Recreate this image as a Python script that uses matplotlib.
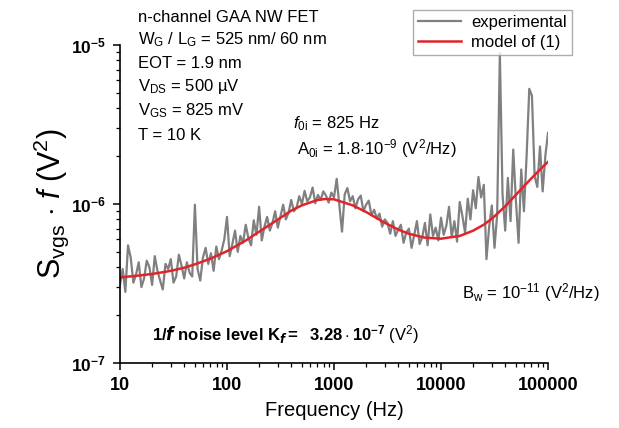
import numpy as np
import matplotlib
matplotlib.use('Agg')
import matplotlib.pyplot as plt
from matplotlib.ticker import FixedLocator, NullFormatter, LogLocator

plt.rcParams['font.family'] = ['Liberation Sans', 'DejaVu Sans']
plt.rcParams['mathtext.fontset'] = 'custom'
plt.rcParams['mathtext.rm'] = 'Liberation Sans'
plt.rcParams['mathtext.it'] = 'Liberation Sans:italic'
plt.rcParams['mathtext.bf'] = 'Liberation Sans:bold'

# ---- data ----
# experimental spectrum, 40 points per decade from 10 Hz to 100 kHz (values in 1e-7 V^2)
exp_freq = np.logspace(1, 5, 161)
exp_vals = [
    3.1, 3.9, 2.8, 5.5, 4.6, 3.2, 3.6, 4.3, 3.0, 3.4,
    4.4, 4.0, 3.1, 4.7, 3.8, 3.3, 2.9, 4.2, 3.9, 4.5,
    3.2, 3.5, 4.8, 4.1, 3.4, 4.3, 3.7, 3.5, 9.9, 3.9,
    3.3, 4.6, 5.3, 4.2, 4.9, 3.8, 5.4, 4.5, 5.1, 6.0,
    8.3, 4.7, 5.6, 6.8, 5.0, 6.3, 5.7, 7.4, 6.1, 5.5,
    7.9, 6.4, 9.6, 5.9, 7.2, 8.3, 6.8, 7.6, 9.0, 7.1,
    8.4, 9.9, 8.0, 8.8, 10.6, 9.0, 9.5, 11.2, 10.0, 12.1,
    10.4, 11.0, 12.7, 10.1, 11.4, 10.6, 12.0, 11.3, 10.2, 11.8,
    11.0, 14.4, 9.8, 6.7, 11.5, 12.6, 10.4, 11.2, 9.4, 10.7,
    11.3, 9.0, 9.9, 10.5, 8.5, 9.2, 8.1, 8.7, 7.2, 8.0,
    7.6, 6.5, 7.8, 6.3, 6.9, 7.4, 5.7, 6.6, 7.0, 5.3,
    6.4, 7.8, 5.6, 6.2, 7.6, 5.5, 8.6, 6.3, 7.1, 5.9,
    8.2, 6.4, 7.3, 9.6, 6.2, 7.8, 5.8, 10.3, 8.4, 6.6,
    10.8, 8.0, 12.2, 9.4, 14.8, 11.0, 13.2, 4.5, 7.2, 9.8,
    5.3, 8.6, 89.0, 11.5, 6.8, 14.6, 7.8, 22.0, 10.5, 5.7,
    16.5, 9.0, 20.0, 53.0, 48.0, 15.0, 12.8, 23.0, 12.0, 20.0,
    28.0,
]

# model curve (values in 1e-7 V^2)
model_freq = [10, 15, 20, 30, 40, 50, 70, 100, 150, 200, 300, 400, 500, 700,
              825, 1000, 1500, 2000, 3000, 4000, 5000, 7000, 10000, 15000,
              20000, 25000, 30000, 40000, 50000, 60000, 70000, 80000, 90000, 100000]
model_vals = [3.45, 3.55, 3.63, 3.8, 3.98, 4.17, 4.53, 5.05, 5.9, 6.7, 8.0, 9.1,
              9.8, 10.6, 10.75, 10.7, 9.8, 8.9, 7.6, 6.9, 6.5, 6.15, 6.05, 6.3,
              6.8, 7.4, 8.1, 9.7, 11.4, 13.0, 14.5, 15.9, 17.2, 18.4]

unit = 1e-7
xticks = [10, 100, 1000, 10000, 100000]
xticklabels = ['10', '100', '1000', '10000', '100000']
yticks = [1e-7, 1e-6, 1e-5]
yticklabels = [r'$\mathbf{10^{-7}}$', r'$\mathbf{10^{-6}}$', r'$\mathbf{10^{-5}}$']

fig = plt.figure(figsize=(6.19, 4.28), dpi=100)
ax = fig.add_axes([120/619, 1-363/428, (548-120)/619, (363-45)/428])

ax.plot(exp_freq, np.array(exp_vals)*unit, color='#808080', lw=1.6, label='experimental')
ax.plot(model_freq, np.array(model_vals)*unit, color='#e0242a', lw=1.8, label='model of (1)')

ax.set_xscale('log')
ax.set_yscale('log')
ax.set_xlim(10, 100000)
ax.set_ylim(1e-7, 1e-5)

for s in ['top', 'right']:
    ax.spines[s].set_visible(False)
for s in ['left', 'bottom']:
    ax.spines[s].set_linewidth(1.2)

ax.xaxis.set_major_locator(FixedLocator(xticks))
ax.set_xticklabels(xticklabels, fontweight='bold', fontsize=13)
ax.yaxis.set_major_locator(FixedLocator(yticks))
ax.set_yticklabels(yticklabels, fontsize=12.5)
ax.xaxis.set_minor_locator(LogLocator(base=10, subs=np.arange(2, 10)))
ax.yaxis.set_minor_locator(LogLocator(base=10, subs=np.arange(2, 10)))
ax.xaxis.set_minor_formatter(NullFormatter())
ax.yaxis.set_minor_formatter(NullFormatter())
ax.tick_params(which='major', direction='out', length=5, width=1.1, pad=5)
ax.tick_params(which='minor', direction='out', length=3, width=0.9)

ax.set_xlabel('Frequency (Hz)', fontsize=14.5, labelpad=5)
ax.set_ylabel(r'S$_{\rm vgs}$ $\cdot$ $f$ (V$^2$)', fontsize=22, labelpad=0)

fs = 12
info = ['n-channel GAA NW FET',
        r'W$_{\rm G}$ / L$_{\rm G}$ = 525 nm/ 60 nm',
        'EOT = 1.9 nm',
        r'V$_{\rm DS}$ = 500 µV',
        r'V$_{\rm GS}$ = 825 mV',
        'T = 10 K']
ys = [17, 40, 63, 87, 111, 136]
for t, y in zip(info, ys):
    fig.text(138/619, 1-y/428, t, fontsize=fs, va='center', ha='left')

fig.text(293/619, 1-124/428, r'$f_{\rm 0i}$ = 825 Hz', fontsize=fs, va='center')
fig.text(297/619, 1-149/428, r'A$_{\rm 0i}$ = 1.8$\cdot$10$^{-9}$ (V$^2$/Hz)', fontsize=fs, va='center')
fig.text(462/619, 1-293/428, r'B$_{\rm w}$ = 10$^{-11}$ (V$^2$/Hz)', fontsize=fs, va='center')
fig.text(152/619, 1-335/428,
         r'$\mathbf{1/}\boldsymbol{f}\ \mathbf{noise\ level\ K_{\boldsymbol{f}} =\ \ 3.28\cdot 10^{-7}}$ (V$^2$)',
         fontsize=fs, va='center')

leg = fig.legend(loc='upper right', bbox_to_anchor=(580/619, 1-2/428), fontsize=12,
                 frameon=True, fancybox=False, edgecolor='#999999', handlelength=2.6,
                 borderpad=0.3, labelspacing=0.3, handletextpad=0.6)
leg.get_frame().set_linewidth(1.0)

fig.savefig('out.png', dpi=100)
